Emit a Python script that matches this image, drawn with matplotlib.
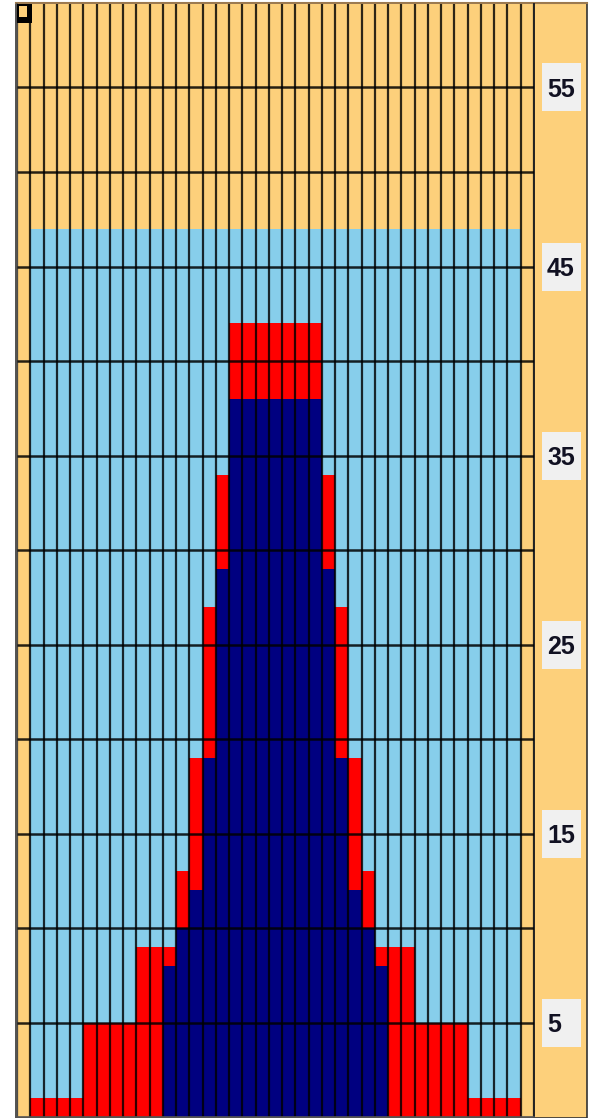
import matplotlib
matplotlib.use("Agg")
from matplotlib import pyplot as plt
from matplotlib.patches import Rectangle
from matplotlib.lines import Line2D
from matplotlib.transforms import blended_transform_factory

#%% Data
# Top of the navy part and of the red part for each of the 37 columns
navy_top = [0, 0, 0, 0, 0, 0, 0, 0, 0, 0, 8, 10, 12, 19, 29,
            38, 38, 38, 38, 38, 38, 38,
            29, 19, 12, 10, 8, 0, 0, 0, 0, 0, 0, 0, 0, 0, 0]
red_top = [1, 1, 1, 1, 5, 5, 5, 5, 9, 9, 9, 13, 19, 27, 34,
           42, 42, 42, 42, 42, 42, 42,
           34, 27, 19, 13, 9, 9, 9, 5, 5, 5, 5, 1, 1, 1, 1]
blue_top = 47
grid_values = [5, 10, 15, 20, 25, 30, 35, 40, 45, 50, 54.5]
tick_values = [5, 15, 25, 35, 45, 54.5]
tick_labels = ["5", "15", "25", "35", "45", "55"]

orange = "#FDD07B"
sky = "#87CEEB"
red = "#FF0000"
navy = "#000080"

W, H = 595, 1118

#%% Figure
fig = plt.figure(figsize=(W / 100, H / 100), dpi=100, facecolor="white")

# outer orange panel (behind the axes)
fig.patches.append(Rectangle((16 / W, 0), 571 / W, 1115 / H, transform=fig.transFigure,
                             facecolor=orange, edgecolor="#333333", linewidth=1.2, zorder=-10))
fig.lines.append(Line2D([16 / W, 587 / W], [1115 / H, 1115 / H], transform=fig.transFigure,
                        color="#9C7A50", linewidth=1.5, zorder=-5))

ax = fig.add_axes([17 / W, 1 / H, 517 / W, 1113 / H])
ax.set_facecolor(orange)

n = len(navy_top)
xs = list(range(1, n + 1))
lb = [blue_top - r for r in red_top]
rh = [r - b for r, b in zip(red_top, navy_top)]

ax.bar(xs, navy_top, width=1, align="edge", color=navy, linewidth=0, zorder=1)
ax.bar(xs, rh, bottom=navy_top, width=1, align="edge", color=red, linewidth=0, zorder=1)
ax.bar(xs, lb, bottom=red_top, width=1, align="edge", color=sky, linewidth=0, zorder=1)

ax.set_xlim(0, n + 2)
ax.set_ylim(0, 58.9)

# column separators and horizontal grid
ax.vlines(range(0, n + 3), 0, 58.9, color="black", alpha=0.82, linewidth=1.6, zorder=2)
ax.hlines(grid_values, 0, n + 2, color="black", alpha=0.85, linewidth=1.8, zorder=3)

for s in ["left", "bottom"]:
    ax.spines[s].set_color("#555555")
    ax.spines[s].set_linewidth(1.2)
ax.spines["right"].set_color("#222222")
ax.spines["right"].set_linewidth(1.4)
ax.spines["top"].set_visible(False)

# tick labels on the right, each in a light grey box of fixed size
ax.set_xticks([])
ax.yaxis.tick_right()
ax.set_yticks(tick_values, tick_labels)
ax.tick_params(axis="y", length=0, pad=9.4)
for t in ax.get_yticklabels():
    t.set_fontfamily(["Liberation Sans", "DejaVu Sans"])
    t.set_fontweight("bold")
    t.set_fontsize(18)
    t.set_color("#111122")

box_tr = blended_transform_factory(fig.transFigure, ax.transData)
for v in tick_values:
    ax.add_patch(Rectangle((542 / W, v - 1.27), 39 / W, 2.54, transform=box_tr,
                           facecolor="#F0F0F0", edgecolor="none", clip_on=False, zorder=0.5))

# little marker in the top-left corner
fig.patches.append(Rectangle((17 / W, (H - 23) / H), 15 / W, 19 / H, transform=fig.transFigure,
                             facecolor="black", edgecolor="none", zorder=5))
fig.patches.append(Rectangle((19 / W, (H - 17) / H), 8 / W, 11 / H, transform=fig.transFigure,
                             facecolor=orange, edgecolor="none", zorder=6))

fig.savefig("out.png", dpi=100, facecolor="white")
